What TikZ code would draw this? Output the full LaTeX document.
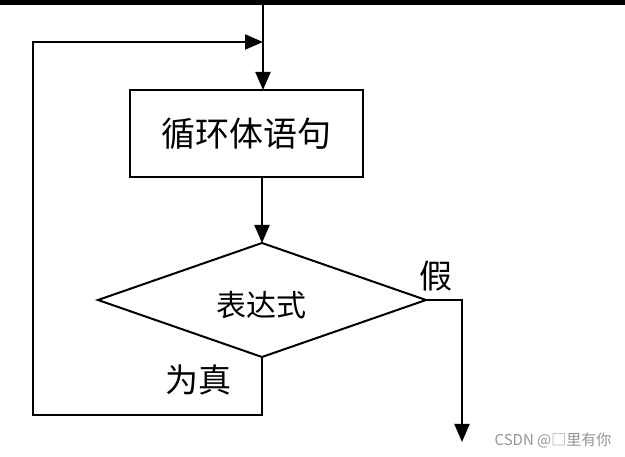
\documentclass[tikz,border=0pt]{standalone}
\usepackage{fontspec}
\setmainfont{Noto Sans CJK SC}
\usetikzlibrary{shapes.geometric,arrows.meta}
\tikzset{
  conn/.style={line width=2pt,-{Triangle[length=18pt,width=15pt]}},
  procbox/.style={draw,line width=2pt,minimum width=233pt,minimum height=87pt,inner sep=0pt,outer sep=0pt,font=\fontsize{34}{36}\selectfont},
  decision/.style={draw,diamond,line width=2pt,minimum width=328pt,minimum height=114pt,inner sep=0pt,outer sep=0pt},
  lbl/.style={inner sep=0pt,font=\fontsize{33}{35}\selectfont},
  wm/.style={inner sep=0pt,text=black!42,font=\fontsize{15}{17}\selectfont}
}
\begin{document}
\begin{tikzpicture}[x=1pt,y=-1pt]
\useasboundingbox (0,0) rectangle (625,457);
\fill[black] (0,0) rectangle (625,5);
\coordinate (top) at (263,5);
\coordinate (merge) at (263,42);
\coordinate (bl) at (33,415);
\coordinate (fr) at (462,300);
\coordinate (fend) at (462,442);
\node[procbox] (body) at (246.5,133.5) {循环体语句};
\node[decision] (cond) at (262,300) {};
\node[inner sep=0pt,font=\fontsize{30}{32}\selectfont] (condtext) at (261,305) {表达式};
\node[lbl] (false) at (436,276) {假};
\node[lbl] (true) at (198,380) {为真};
\node[wm] (mark) at (553,440) {CSDN @□里有你};
\draw[conn] (top) -- (top |- body.north);
\draw[conn] (body.south -| cond.north) -- (cond.north);
\draw[conn] (cond.east) -- (fr) -- (fend);
\draw[conn] (cond.south) |- (bl) |- (merge);
\end{tikzpicture}
\end{document}
